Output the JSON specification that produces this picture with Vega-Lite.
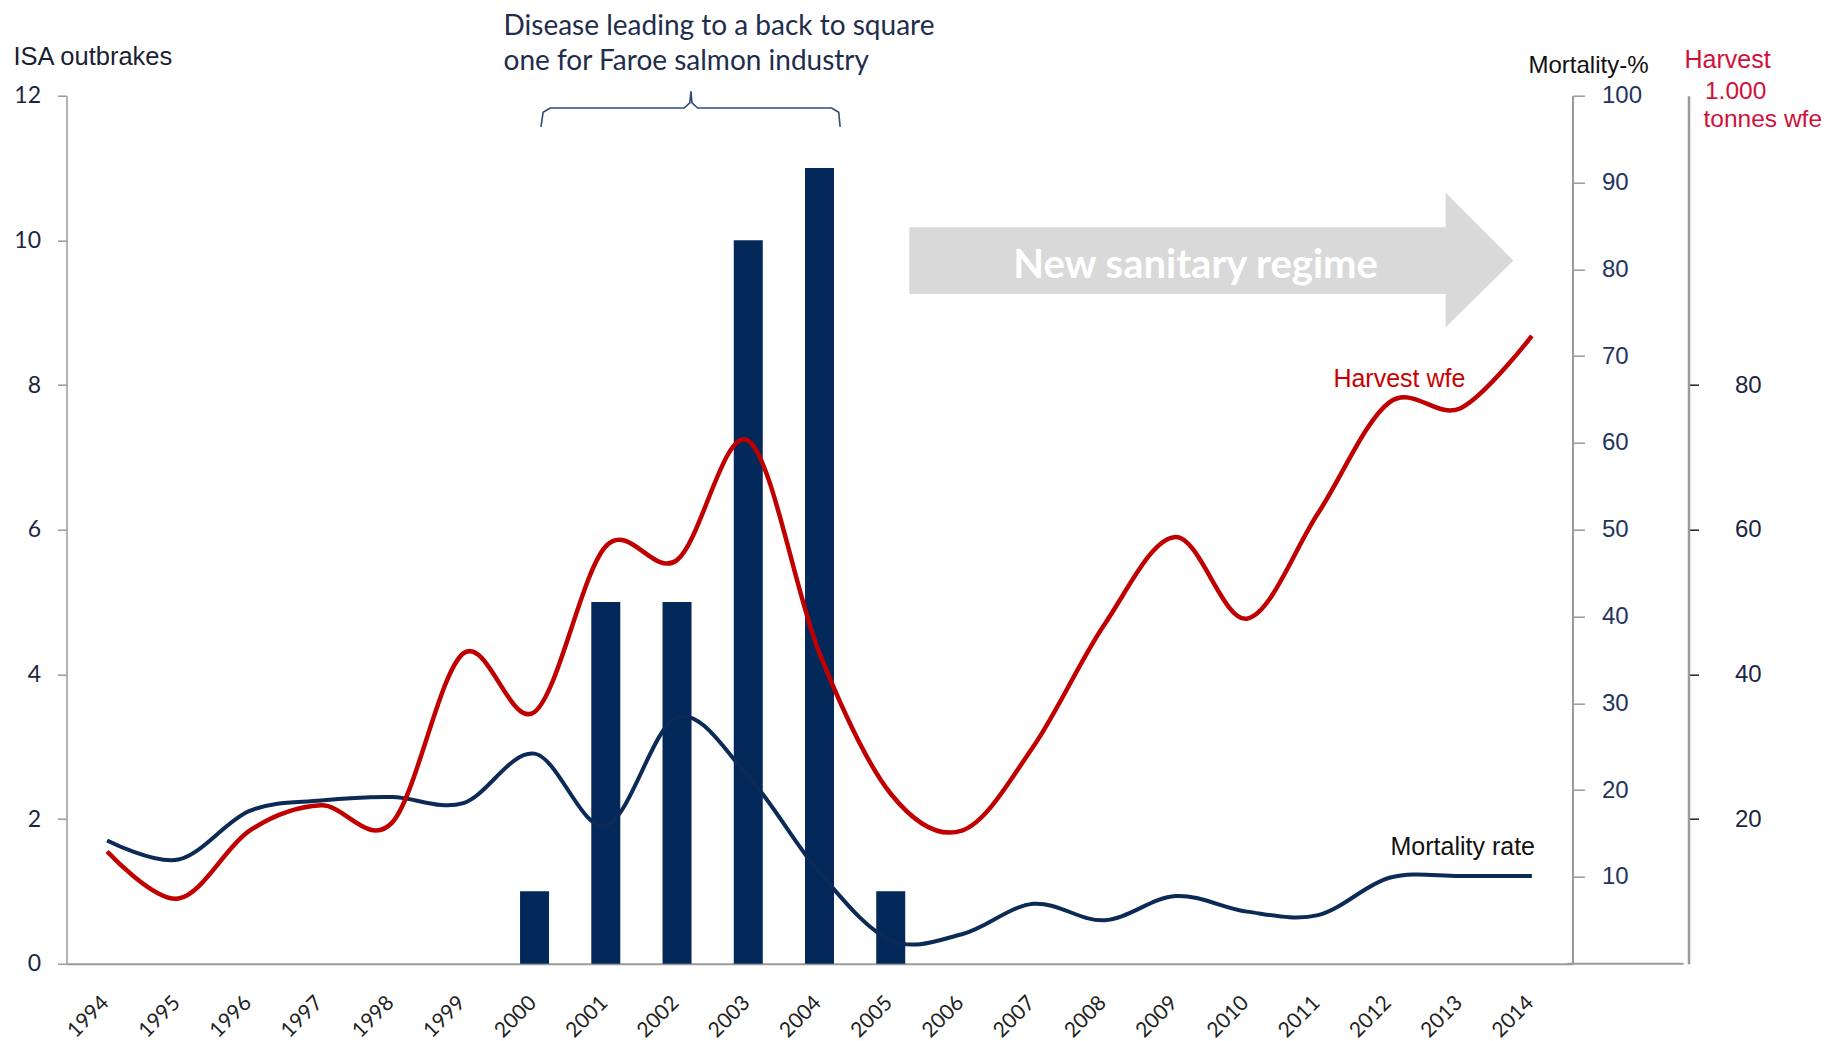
{
  "$schema": "https://vega.github.io/schema/vega-lite/v6.json",
  "width": 1506,
  "height": 868,
  "autosize": {"type": "none"},
  "padding": {"left": 66.5, "top": 95.7, "right": 256.5, "bottom": 77.3},
  "background": "white",
  "config": {"view": {"stroke": null}, "font": "Liberation Sans"},
  "datasets": {
    "outbreaks": [
      {"year": 2000, "outbreaks": 1},
      {"year": 2001, "outbreaks": 5},
      {"year": 2002, "outbreaks": 5},
      {"year": 2003, "outbreaks": 10},
      {"year": 2004, "outbreaks": 11},
      {"year": 2005, "outbreaks": 1}
    ],
    "mortality": [
      {"year": 1994, "mortality": 14.2},
      {"year": 1995, "mortality": 12.0},
      {"year": 1996, "mortality": 17.6},
      {"year": 1997, "mortality": 18.8},
      {"year": 1998, "mortality": 19.2},
      {"year": 1999, "mortality": 18.5},
      {"year": 2000, "mortality": 24.2},
      {"year": 2001, "mortality": 15.9},
      {"year": 2002, "mortality": 28.4},
      {"year": 2003, "mortality": 21.6},
      {"year": 2004, "mortality": 10.5},
      {"year": 2005, "mortality": 2.7},
      {"year": 2006, "mortality": 3.4},
      {"year": 2007, "mortality": 6.9},
      {"year": 2008, "mortality": 5.0},
      {"year": 2009, "mortality": 7.8},
      {"year": 2010, "mortality": 6.0},
      {"year": 2011, "mortality": 5.6},
      {"year": 2012, "mortality": 9.9},
      {"year": 2013, "mortality": 10.1},
      {"year": 2014, "mortality": 10.1}
    ],
    "harvest": [
      {"year": 1994, "harvest": 15.5},
      {"year": 1995, "harvest": 9.0},
      {"year": 1996, "harvest": 18.4},
      {"year": 1997, "harvest": 21.9},
      {"year": 1998, "harvest": 19.5},
      {"year": 1999, "harvest": 42.9},
      {"year": 2000, "harvest": 34.8},
      {"year": 2001, "harvest": 57.7},
      {"year": 2002, "harvest": 55.8},
      {"year": 2003, "harvest": 72.3},
      {"year": 2004, "harvest": 42.9},
      {"year": 2005, "harvest": 23.5},
      {"year": 2006, "harvest": 18.4},
      {"year": 2007, "harvest": 30.0},
      {"year": 2008, "harvest": 46.9},
      {"year": 2009, "harvest": 59.0},
      {"year": 2010, "harvest": 47.7},
      {"year": 2011, "harvest": 62.3},
      {"year": 2012, "harvest": 77.6},
      {"year": 2013, "harvest": 76.8},
      {"year": 2014, "harvest": 86.8}
    ],
    "arrowBody": [
      {"year": 2005.26, "year2": 2012.8, "lo": 9.26, "hi": 10.18}
    ],
    "arrowHead": [
      {"year": 2012.79, "lo": 8.80, "hi": 10.66},
      {"year": 2013.74, "lo": 9.72, "hi": 9.72}
    ],
    "bracket": [
      {"year": 2000.09, "yv": 11.57, "step": 1},
      {"year": 2000.12, "yv": 11.77, "step": 2},
      {"year": 2000.22, "yv": 11.83, "step": 3},
      {"year": 2002.1, "yv": 11.83, "step": 4},
      {"year": 2002.18, "yv": 11.9, "step": 5},
      {"year": 2002.195, "yv": 12.06, "step": 6},
      {"year": 2002.21, "yv": 11.9, "step": 7},
      {"year": 2002.29, "yv": 11.83, "step": 8},
      {"year": 2004.17, "yv": 11.83, "step": 9},
      {"year": 2004.27, "yv": 11.77, "step": 10},
      {"year": 2004.29, "yv": 11.57, "step": 11}
    ]
  },
  "encoding": {
    "x": {
      "field": "year",
      "type": "quantitative",
      "scale": {"domain": [1993.5, 2014.5], "nice": false, "zero": false},
      "axis": {
        "title": null,
        "values": [1994, 1995, 1996, 1997, 1998, 1999, 2000, 2001, 2002, 2003, 2004, 2005, 2006, 2007, 2008, 2009, 2010, 2011, 2012, 2013, 2014],
        "format": "d",
        "grid": false,
        "ticks": false,
        "tickSize": 0,
        "labelAngle": -45,
        "labelAlign": "center",
        "labelBaseline": "middle",
        "labelPadding": 53,
        "labelOffset": -19,
        "labelOverlap": false,
        "labelFlush": false,
        "labelBound": false,
        "labelFont": "Lato",
        "labelFontSize": 21,
        "labelColor": "#222222",
        "domainColor": "#9a9a9a",
        "domainWidth": 2
      }
    }
  },
  "layer": [
    {
      "layer": [
        {
          "data": {"name": "outbreaks"},
          "mark": {"type": "bar", "size": 29, "color": "#03285a"},
          "encoding": {
            "y": {
              "field": "outbreaks",
              "type": "quantitative",
              "scale": {"domain": [0, 12], "nice": false},
              "axis": {
                "orient": "left",
                "title": "ISA outbrakes",
                "titleAngle": 0,
                "titleX": -53.5,
                "titleY": -31,
                "titleAlign": "left",
                "titleBaseline": "alphabetic",
                "titleFontSize": 25.5,
                "titleFontWeight": "normal",
                "titleColor": "#1a1f33",
                "values": [0, 2, 4, 6, 8, 10, 12],
                "format": "d",
                "grid": false,
                "tickSize": 9,
                "tickColor": "#9a9a9a",
                "tickWidth": 1.5,
                "domainColor": "#9a9a9a",
                "domainWidth": 1.5,
                "labelPadding": 17,
                "labelFont": "Lato",
                "labelFontSize": 23,
                "labelColor": "#1c2540"
              }
            }
          }
        },
        {
          "data": {"name": "arrowBody"},
          "mark": {"type": "rect", "color": "#d9d9d9"},
          "encoding": {
            "x2": {"field": "year2"},
            "y": {"field": "lo", "type": "quantitative"},
            "y2": {"field": "hi"}
          }
        },
        {
          "data": {"name": "arrowHead"},
          "mark": {"type": "area", "color": "#d9d9d9", "opacity": 1},
          "encoding": {
            "y": {"field": "lo", "type": "quantitative", "stack": null},
            "y2": {"field": "hi"}
          }
        },
        {
          "data": {"values": [{"year": 2009.28, "yv": 9.64, "label": "New sanitary regime"}]},
          "mark": {"type": "text", "font": "Lato", "fontSize": 40, "fontWeight": "bold", "color": "#ffffff", "align": "center", "baseline": "middle"},
          "encoding": {
            "y": {"field": "yv", "type": "quantitative"},
            "text": {"field": "label"}
          }
        },
        {
          "data": {"name": "bracket"},
          "mark": {"type": "line", "color": "#2d4a7a", "strokeWidth": 1.6},
          "encoding": {
            "y": {"field": "yv", "type": "quantitative"},
            "order": {"field": "step", "type": "quantitative"}
          }
        },
        {
          "data": {"values": [
            {"year": 1999.565, "yv": 12.84, "label": "Disease leading to a back to square"},
            {"year": 1999.565, "yv": 12.35, "label": "one for Faroe salmon industry"}
          ]},
          "mark": {"type": "text", "font": "Lato", "fontSize": 28, "color": "#1f2d4d", "align": "left", "baseline": "alphabetic"},
          "encoding": {
            "y": {"field": "yv", "type": "quantitative"},
            "text": {"field": "label"}
          }
        },
        {
          "data": {"values": [
            {"year": 2016.43, "yv": 11.96, "label": "1.000"},
            {"year": 2016.41, "yv": 11.57, "label": "tonnes wfe"}
          ]},
          "mark": {"type": "text", "fontSize": 24.5, "color": "#d0103a", "align": "left", "baseline": "alphabetic"},
          "encoding": {
            "y": {"field": "yv", "type": "quantitative"},
            "text": {"field": "label"}
          }
        },
        {
          "data": {"values": [{"year": 2012.14, "yv": 8.08, "label": "Harvest wfe"}]},
          "mark": {"type": "text", "fontSize": 25, "color": "#cc0000", "align": "center", "baseline": "middle"},
          "encoding": {
            "y": {"field": "yv", "type": "quantitative"},
            "text": {"field": "label"}
          }
        },
        {
          "data": {"values": [{"year": 2013.03, "yv": 1.61, "label": "Mortality rate"}]},
          "mark": {"type": "text", "fontSize": 25, "color": "#111111", "align": "center", "baseline": "middle"},
          "encoding": {
            "y": {"field": "yv", "type": "quantitative"},
            "text": {"field": "label"}
          }
        },
        {
          "data": {"values": [{"year": 2014.5, "year2": 2016.13, "yv": 0}]},
          "mark": {"type": "rule", "color": "#9a9a9a", "strokeWidth": 2},
          "encoding": {
            "x2": {"field": "year2"},
            "y": {"field": "yv", "type": "quantitative"}
          }
        }
      ]
    },
    {
      "data": {"name": "mortality"},
      "mark": {"type": "line", "interpolate": "cardinal", "color": "#0b2a55", "strokeWidth": 4},
      "encoding": {
        "y": {
          "field": "mortality",
          "type": "quantitative",
          "scale": {"domain": [0, 100], "nice": false},
          "axis": {
            "orient": "right",
            "title": "Mortality-%",
            "titleAngle": 0,
            "titleX": -44.5,
            "titleY": -23,
            "titleAlign": "left",
            "titleBaseline": "alphabetic",
            "titleFontSize": 24,
            "titleFontWeight": "normal",
            "titleColor": "#111111",
            "values": [10, 20, 30, 40, 50, 60, 70, 80, 90, 100],
            "grid": false,
            "tickSize": 12,
            "tickColor": "#9a9a9a",
            "tickWidth": 1.5,
            "domainColor": "#9a9a9a",
            "domainWidth": 2,
            "labelPadding": 17,
            "labelFontSize": 24,
            "labelColor": "#1f3460"
          }
        }
      }
    },
    {
      "data": {"name": "harvest"},
      "mark": {"type": "line", "interpolate": "cardinal", "color": "#c00000", "strokeWidth": 4.5},
      "encoding": {
        "y": {
          "field": "harvest",
          "type": "quantitative",
          "scale": {"domain": [0, 120], "nice": false},
          "axis": {
            "orient": "right",
            "offset": 116,
            "title": "Harvest",
            "titleAngle": 0,
            "titleX": -4.5,
            "titleY": -28,
            "titleAlign": "left",
            "titleBaseline": "alphabetic",
            "titleFontSize": 25,
            "titleFontWeight": "normal",
            "titleColor": "#d0103a",
            "values": [20, 40, 60, 80],
            "grid": false,
            "tickSize": 10,
            "tickColor": "#222222",
            "tickWidth": 1.5,
            "domainColor": "#9a9a9a",
            "domainWidth": 2.5,
            "labelPadding": 36,
            "labelFontSize": 24,
            "labelColor": "#1c2540"
          }
        }
      }
    }
  ],
  "resolve": {"scale": {"y": "independent"}, "axis": {"y": "independent"}}
}
